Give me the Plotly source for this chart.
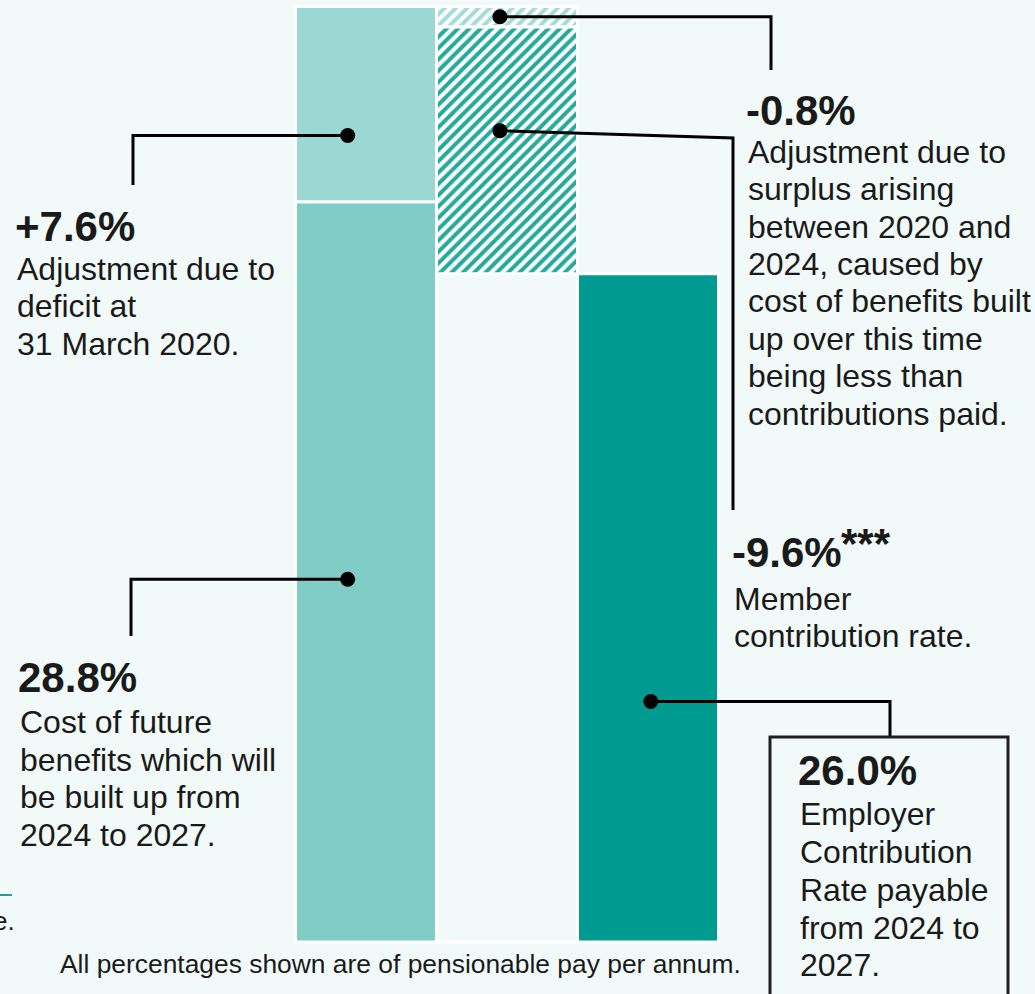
import plotly.graph_objects as go

# ---------------- data ----------------
cost_future = 28.8      # cost of future benefits 2024-2027
deficit_adj = 7.6       # adjustment due to deficit at 31 March 2020
surplus_adj = -0.8      # adjustment due to surplus 2020-2024
member_rate = -9.6      # member contribution rate
employer_rate = 26.0    # employer contribution rate

columns = [0, 1, 2]     # column index of each bar group

title_labels = ["+7.6%", "28.8%", "-0.8%", "-9.6%", "26.0%"]
title_suffix = "***"
body_labels = [
    ["Adjustment due to", "deficit at", "31 March 2020."],
    ["Cost of future", "benefits which will", "be built up from", "2024 to 2027."],
    ["Adjustment due to", "surplus arising", "between 2020 and", "2024, caused by",
     "cost of benefits built", "up over this time", "being less than", "contributions paid."],
    ["Member", "contribution rate."],
    ["Employer", "Contribution", "Rate payable", "from 2024 to", "2027."],
]
footnote = "All percentages shown are of pensionable pay per annum."

# ---------------- geometry / style ----------------
W, H = 1035, 994
X0PX, XSTEP = 366.0, 141.0
Y0PX, YSCALE = 942.0, 25.7
BG = "#F2FAF9"
FONT = "Liberation Sans, Arial, sans-serif"
TXT = "#1a1a1a"

def dx(px):
    return (px - X0PX) / XSTEP

def dy(py):
    return (Y0PX - py) / YSCALE

def ppx(px):
    return px / W

def ppy(py):
    return 1 - py / H

top_total = cost_future + deficit_adj
after_surplus = top_total + surplus_adj

fig = go.Figure()
OUT = dict(color="white", width=3)

fig.add_trace(go.Bar(x=[columns[0]], y=[cost_future], base=[0], width=1.0,
                     marker=dict(color="#80CDC8", line=OUT), hoverinfo="skip"))
fig.add_trace(go.Bar(x=[columns[0]], y=[deficit_adj], base=[cost_future], width=1.0,
                     marker=dict(color="#9BD8D4", line=OUT), hoverinfo="skip"))
fig.add_trace(go.Bar(x=[columns[1]], y=[employer_rate], base=[0], width=1.0,
                     marker=dict(color=BG, line=OUT), hoverinfo="skip"))
fig.add_trace(go.Bar(x=[columns[1]], y=[surplus_adj], base=[top_total], width=1.0,
                     marker=dict(color="#FFFFFF", line=OUT,
                                 pattern=dict(shape="/", fgcolor="#A3DCD7", bgcolor="#FFFFFF",
                                              fgopacity=1, size=8, solidity=0.5)),
                     hoverinfo="skip"))
fig.add_trace(go.Bar(x=[columns[1]], y=[member_rate], base=[after_surplus], width=1.0,
                     marker=dict(color="#FFFFFF", line=OUT,
                                 pattern=dict(shape="/", fgcolor="#26A99D", bgcolor="#FFFFFF",
                                              fgopacity=1, size=8, solidity=0.5)),
                     hoverinfo="skip"))
fig.add_trace(go.Bar(x=[columns[2]], y=[employer_rate], base=[0], width=1.0,
                     marker=dict(color="#009B90", line=OUT), hoverinfo="skip"))

# anchor dots (derived from the data segments)
dots = [
    (columns[0] - 0.13, cost_future + 0.34 * deficit_adj),
    (columns[0] - 0.13, 0.49 * cost_future),
    (columns[1] - 0.05, top_total + 0.5 * surplus_adj),
    (columns[1] - 0.05, after_surplus + 0.42 * member_rate),
    (columns[2] + 0.02, 0.36 * employer_rate),
]
# elbow points of leader lines (pixel layout positions)
elbows = [
    [(133, None), (133, 185)],
    [(131, None), (131, 636)],
    [(771, None), (771, 70)],
    [(733, 138), (733, 510)],
    [(890, None), (890, 737)],
]
for (xd, yd), el in zip(dots, elbows):
    xs, ys = [xd], [yd]
    for (ex, ey) in el:
        xs.append(dx(ex))
        ys.append(yd if ey is None else dy(ey))
    fig.add_trace(go.Scatter(x=xs, y=ys, mode="lines", line=dict(color="black", width=3),
                             hoverinfo="skip", cliponaxis=False))
fig.add_trace(go.Scatter(x=[d[0] for d in dots], y=[d[1] for d in dots], mode="markers",
                         marker=dict(color="black", size=15), hoverinfo="skip", cliponaxis=False))

# text blocks: (left px, title baseline, first body baseline, pitch)
blocks = [
    (16, 241, 280, 37.6),
    (19, 692, 733, 37.7),
    (747, 125, 163, 37.4),
    (733, 567, 610, 37.5),
    (799, 785, 825, 37.9),
]
TF, BF = 42, 32
ann = []
for (lx, tb, bb, pitch), t, body in zip(blocks, title_labels, body_labels):
    ann.append(dict(x=ppx(lx - 2), y=ppy(tb - 0.35 * TF), xref="paper", yref="paper",
                    text="<b>" + t + "</b>", showarrow=False, xanchor="left", yanchor="middle",
                    font=dict(family=FONT, size=TF, color=TXT), borderpad=0))
    for i, line in enumerate(body):
        b = bb + i * pitch
        ann.append(dict(x=ppx(lx), y=ppy(b - 0.35 * BF), xref="paper", yref="paper",
                        text=line, showarrow=False, xanchor="left", yanchor="middle",
                        font=dict(family=FONT, size=BF, color=TXT), borderpad=0))

# raised asterisks after -9.6%
ann.append(dict(x=ppx(840), y=ppy(558 - 0.35 * TF), xref="paper", yref="paper",
                text="<b>" + title_suffix + "</b>", showarrow=False, xanchor="left",
                yanchor="middle", font=dict(family=FONT, size=TF, color=TXT), borderpad=0))

ann.append(dict(x=ppx(400), y=ppy(973 - 0.35 * 26.4), xref="paper", yref="paper",
                text=footnote, showarrow=False, xanchor="center", yanchor="middle",
                font=dict(family=FONT, size=26.4, color=TXT), borderpad=0))
ann.append(dict(x=ppx(16), y=ppy(930 - 0.35 * 26), xref="paper", yref="paper",
                text="e.", showarrow=False, xanchor="right", yanchor="middle",
                font=dict(family=FONT, size=26, color=TXT), borderpad=0))

shapes = [
    dict(type="rect", xref="paper", yref="paper", x0=ppx(770), x1=ppx(1008),
         y0=ppy(1010), y1=ppy(737), line=dict(color="#231F20", width=3)),
    dict(type="line", xref="paper", yref="paper", x0=0, x1=ppx(12),
         y0=ppy(895), y1=ppy(895), line=dict(color="#1BA39A", width=2)),
]

fig.update_layout(
    width=W, height=H, margin=dict(l=0, r=0, t=0, b=0),
    paper_bgcolor=BG, plot_bgcolor=BG, showlegend=False, barmode="overlay",
    xaxis=dict(range=[dx(0), dx(W)], visible=False, fixedrange=True),
    yaxis=dict(range=[dy(H), dy(0)], visible=False, fixedrange=True),
    annotations=ann, shapes=shapes,
)
fig.write_html("out.html", post_script="document.body.style.margin='0';",
               config={"displayModeBar": False})
